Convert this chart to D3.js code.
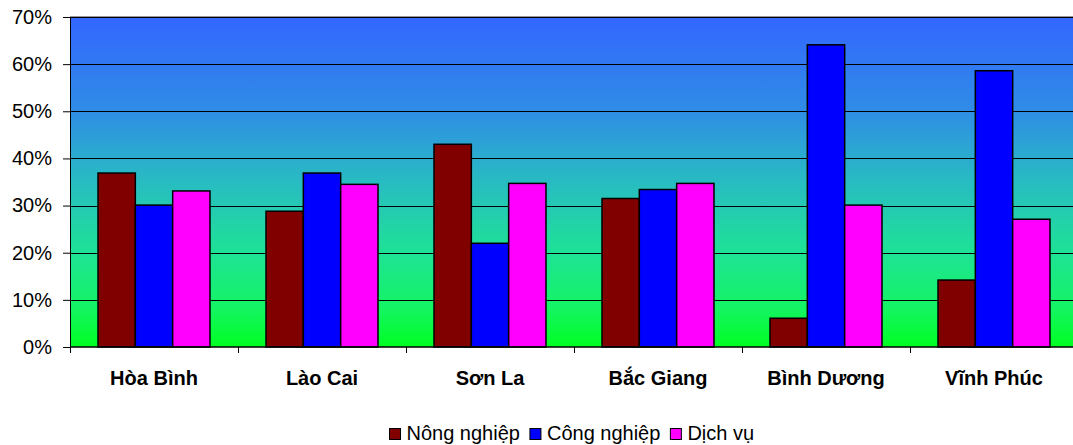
<!DOCTYPE html>
<html>
<head>
<meta charset="utf-8">
<script src="https://cdn.jsdelivr.net/npm/d3@7"></script>
<style>
  html, body { margin: 0; padding: 0; background: #fff; overflow: hidden; }
  svg { display: block; font-family: Arial, "Liberation Sans", sans-serif; }
</style>
</head>
<body>
<svg id="chart" width="1073" height="445"></svg>
<script>
// Provinces and sector shares of GDP (%)
const provinces = ["Hòa Bình", "Lào Cai", "Sơn La", "Bắc Giang", "Bình Dương", "Vĩnh Phúc"];
const seriesNames = ["Nông nghiệp", "Công nghiệp", "Dịch vụ"];
const nongNghiep = [36.9, 28.8, 43.0, 31.5, 6.1, 14.2];
const congNghiep = [30.1, 36.9, 22.0, 33.4, 64.1, 58.6];
const dichVu = [33.1, 34.5, 34.7, 34.7, 30.1, 27.1];
const seriesColors = ["#800000", "#0000ff", "#ff00ff"];
const yTicks = [0, 10, 20, 30, 40, 50, 60, 70];

const seriesValues = [nongNghiep, congNghiep, dichVu];

const svg = d3.select("#chart");
const W = 1073, H = 445;
const margin = { left: 70, top: 17, bottom: 98 };
// The plot area runs slightly past the right edge of the canvas
const pw = 1008;
const ph = H - margin.top - margin.bottom;

const defs = svg.append("defs");
const grad = defs.append("linearGradient")
  .attr("id", "bg").attr("x1", 0).attr("y1", 0).attr("x2", 0).attr("y2", 1);
[[0, "#3366ff"], [0.28, "#2f8ce6"], [0.5, "#28bcc2"], [0.72, "#1ee394"], [0.88, "#14f464"], [1, "#00ff22"]]
  .forEach(([o, c]) => grad.append("stop").attr("offset", o).attr("stop-color", c));

const g = svg.append("g").attr("transform", `translate(${margin.left},${margin.top})`);

const x = d3.scaleBand().domain(provinces).range([0, pw]).paddingInner(0).paddingOuter(0);
const xs = d3.scaleBand().domain(seriesNames).range([0, x.bandwidth()])
  .paddingInner(0).paddingOuter(0.75);
const y = d3.scaleLinear().domain([0, 70]).range([ph, 0]);

// Plot background
g.append("rect").attr("x", 0).attr("y", 0).attr("width", pw).attr("height", ph)
  .attr("fill", "url(#bg)");
g.append("line").attr("x1", 0).attr("x2", pw).attr("y1", -0.5).attr("y2", -0.5)
  .attr("stroke", "#999").attr("stroke-width", 1);

// Gridlines
g.append("g").selectAll("line").data(yTicks.filter(t => t > 0)).join("line")
  .attr("x1", 0).attr("x2", pw)
  .attr("y1", d => Math.round(y(d)) + 0.5).attr("y2", d => Math.round(y(d)) + 0.5)
  .attr("stroke", "#000").attr("stroke-width", 1);

// Bars
const groups = g.append("g").selectAll("g").data(provinces).join("g")
  .attr("transform", d => `translate(${x(d)},0)`);
groups.selectAll("rect")
  .data((d, i) => seriesNames.map((s, k) => ({ s, v: seriesValues[k][i], c: seriesColors[k] })))
  .join("rect")
  .attr("x", d => xs(d.s))
  .attr("y", d => y(d.v))
  .attr("width", xs.bandwidth())
  .attr("height", d => ph - y(d.v))
  .attr("fill", d => d.c)
  .attr("stroke", "#000").attr("stroke-width", 1.5);

// Y axis
const yAxis = g.append("g").call(
  d3.axisLeft(y).tickValues(yTicks).tickFormat(d => d + "%").tickSize(7).tickPadding(11)
);
yAxis.select(".domain").attr("stroke", "#000");
yAxis.selectAll("text").attr("font-size", 20).attr("fill", "#000")
  .attr("font-family", "Arial, 'Liberation Sans', sans-serif");

// X axis with ticks at band edges
const xAxisG = g.append("g").attr("transform", `translate(0,${ph})`);
xAxisG.append("line").attr("x1", 0).attr("x2", pw).attr("y1", 0).attr("y2", 0)
  .attr("stroke", "#000").attr("stroke-width", 1.5);
xAxisG.selectAll("line.tick").data(d3.range(provinces.length + 1)).join("line")
  .attr("class", "tick")
  .attr("x1", i => Math.round(i * x.step()) + 0.5).attr("x2", i => Math.round(i * x.step()) + 0.5)
  .attr("y1", 0).attr("y2", 6).attr("stroke", "#000");
xAxisG.selectAll("text").data(provinces).join("text")
  .attr("x", d => x(d) + x.bandwidth() / 2)
  .attr("y", 38)
  .attr("text-anchor", "middle")
  .attr("font-size", 20).attr("font-weight", "bold").attr("fill", "#000")
  .text(d => d);

// Legend
const legend = svg.append("g").attr("transform", "translate(0,440)");
const items = legend.selectAll("g").data(seriesNames).join("g");
items.append("rect").attr("width", 11).attr("height", 11).attr("y", -11.5)
  .attr("fill", (d, i) => seriesColors[i]).attr("stroke", "#000").attr("stroke-width", 1);
items.append("text").attr("x", 17).attr("y", 0)
  .attr("font-size", 20).attr("fill", "#000").text(d => d);
let cx = 389.5;
items.each(function () {
  const node = d3.select(this);
  node.attr("transform", `translate(${cx},0)`);
  cx += this.getBBox().width + 10;
});
</script>
</body>
</html>
